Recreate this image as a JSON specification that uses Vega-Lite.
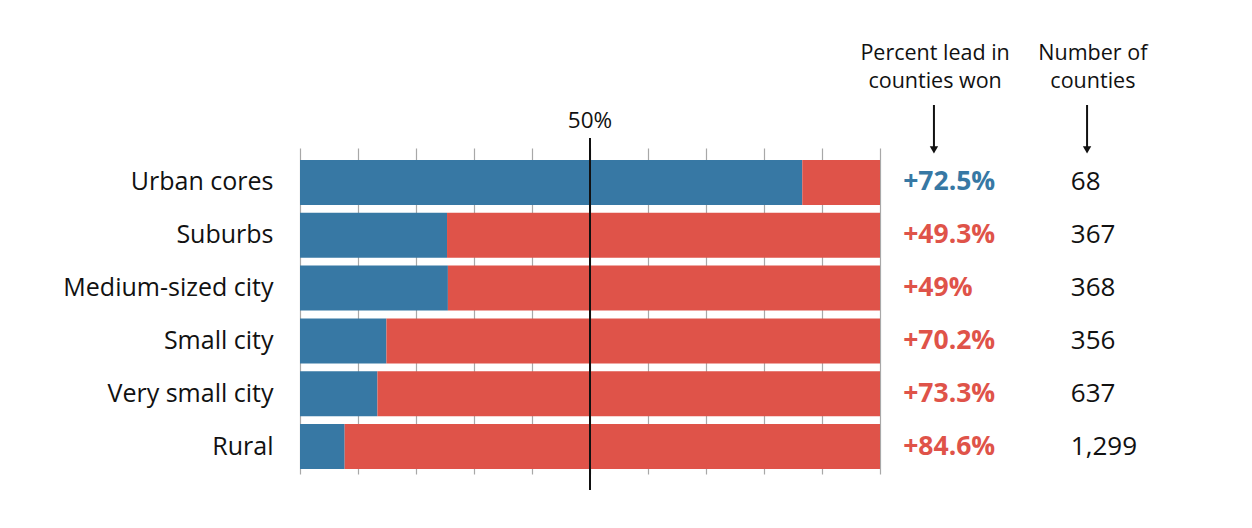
{
  "$schema": "https://vega.github.io/schema/vega-lite/v6.json",
  "autosize": "none",
  "width": 580,
  "height": 326,
  "padding": {"left": 300, "top": 148, "right": 372, "bottom": 54},
  "config": {"view": {"stroke": null}, "font": "Open Sans"},
  "resolve": {"scale": {"y": "independent"}},
  "layer": [
    {
      "data": {"values": [
        {"type": "Urban cores", "blue": 86.6, "lead": "+72.5%", "winner": "D", "counties": "68"},
        {"type": "Suburbs", "blue": 25.35, "lead": "+49.3%", "winner": "R", "counties": "367"},
        {"type": "Medium-sized city", "blue": 25.5, "lead": "+49%", "winner": "R", "counties": "368"},
        {"type": "Small city", "blue": 14.9, "lead": "+70.2%", "winner": "R", "counties": "356"},
        {"type": "Very small city", "blue": 13.35, "lead": "+73.3%", "winner": "R", "counties": "637"},
        {"type": "Rural", "blue": 7.7, "lead": "+84.6%", "winner": "R", "counties": "1,299"}
      ]},
      "encoding": {
        "y": {
          "field": "type", "type": "nominal", "sort": null,
          "scale": {"paddingInner": 0.148, "paddingOuter": 0.161, "align": 0.706},
          "axis": {"title": null, "domain": false, "ticks": false, "labelPadding": 27, "labelFontSize": 25, "labelColor": "#111", "labelFont": "Open Sans", "labelLimit": 300}
        }
      },
      "layer": [
        {
          "mark": {"type": "bar", "color": "#3778a4"},
          "encoding": {
            "x": {
              "field": "blue", "type": "quantitative",
              "scale": {"domain": [0, 100], "nice": false},
              "axis": {"title": null, "labels": false, "ticks": false, "domain": false, "grid": true, "values": [0,10,20,30,40,50,60,70,80,90,100], "gridColor": "#a8a8a8", "gridWidth": 1.2}
            }
          }
        },
        {
          "mark": {"type": "bar", "color": "#df5349"},
          "encoding": {
            "x": {"field": "blue", "type": "quantitative"},
            "x2": {"datum": 100}
          }
        },
        {
          "mark": {"type": "text", "align": "left", "baseline": "middle", "fontSize": 26.5, "fontWeight": "bold"},
          "encoding": {
            "x": {"datum": 104},
            "text": {"field": "lead"},
            "color": {"field": "winner", "type": "nominal", "scale": {"domain": ["D", "R"], "range": ["#3778a4", "#df5349"]}, "legend": null}
          }
        },
        {
          "mark": {"type": "text", "align": "left", "baseline": "middle", "fontSize": 26, "color": "#111"},
          "encoding": {
            "x": {"datum": 132.9},
            "text": {"field": "counties"}
          }
        }
      ]
    },
    {
      "data": {"values": [
        {"kind": "line50", "x": 50, "y": -0.0491, "y2": 1.0307}
      ]},
      "layer": [
        {
          "mark": {"type": "rule", "color": "#111", "strokeWidth": 2},
          "encoding": {
            "x": {"field": "x", "type": "quantitative"},
            "y": {"field": "y", "type": "quantitative", "scale": {"domain": [0, 1], "nice": false, "zero": false}, "axis": null},
            "y2": {"field": "y2"}
          }
        }
      ]
    },
    {
      "data": {"values": [
        {"label": "50%", "x": 50, "y": 1.0828}
      ]},
      "mark": {"type": "text", "align": "center", "baseline": "middle", "fontSize": 22.5, "color": "#111"},
      "encoding": {
        "x": {"field": "x", "type": "quantitative"},
        "y": {"field": "y", "type": "quantitative", "scale": {"domain": [0, 1], "nice": false, "zero": false}, "axis": null},
        "text": {"field": "label"}
      }
    },
    {
      "data": {"values": [
        {"label": "Percent lead in\ncounties won", "x": 109.5, "y": 1.2883},
        {"label": "Number of\ncounties", "x": 136.7, "y": 1.2883}
      ]},
      "mark": {"type": "text", "align": "center", "baseline": "middle", "lineBreak": "\n", "lineHeight": 28, "fontSize": 21.5, "color": "#111"},
      "encoding": {
        "x": {"field": "x", "type": "quantitative"},
        "y": {"field": "y", "type": "quantitative", "scale": {"domain": [0, 1], "nice": false, "zero": false}, "axis": null},
        "text": {"field": "label"}
      }
    },
    {
      "data": {"values": [
        {"x": 109.3, "y": 0.994, "y2": 1.1319},
        {"x": 135.7, "y": 0.994, "y2": 1.1319}
      ]},
      "layer": [
        {
          "mark": {"type": "rule", "color": "#111", "strokeWidth": 2},
          "encoding": {
            "x": {"field": "x", "type": "quantitative"},
            "y": {"field": "y", "type": "quantitative", "scale": {"domain": [0, 1], "nice": false, "zero": false}, "axis": null},
            "y2": {"field": "y2"}
          }
        },
        {
          "mark": {"type": "point", "shape": "triangle-down", "filled": true, "color": "#111", "size": 70, "opacity": 1},
          "encoding": {
            "x": {"field": "x", "type": "quantitative"},
            "y": {"field": "y", "type": "quantitative"}
          }
        }
      ]
    }
  ]
}
